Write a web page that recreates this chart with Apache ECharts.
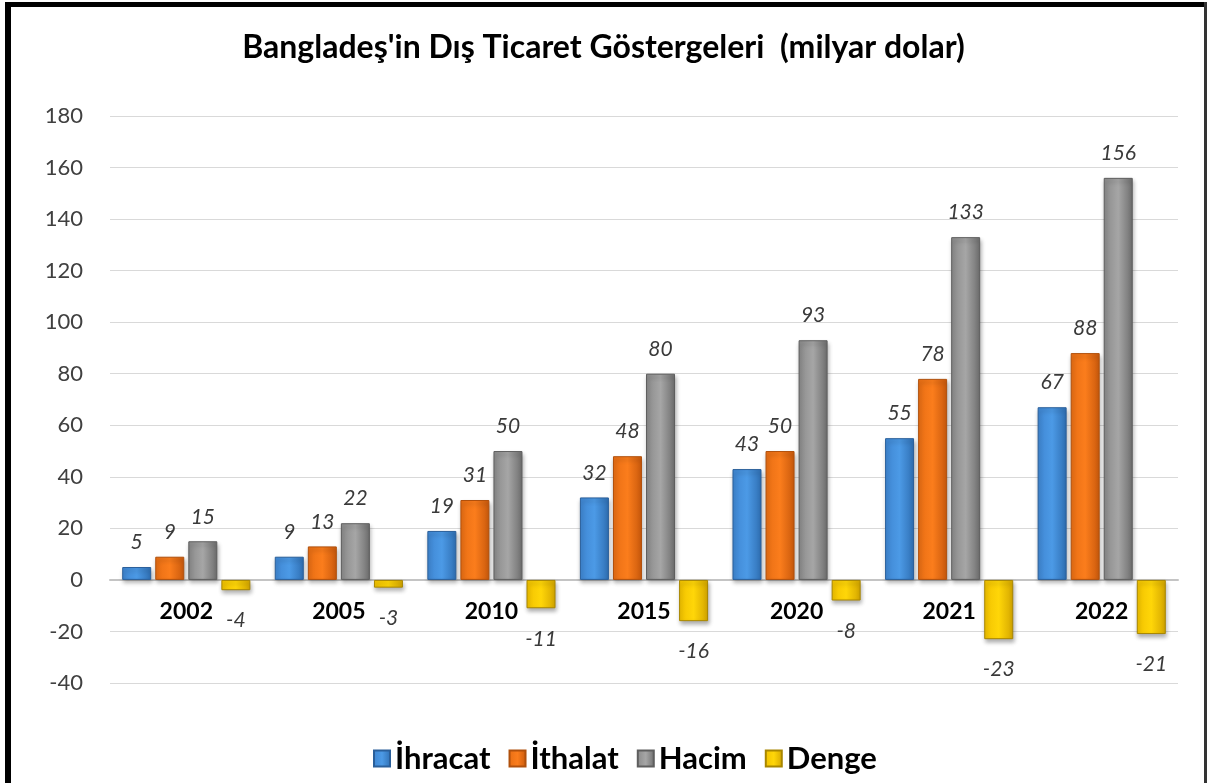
<!DOCTYPE html>
<html>
<head>
<meta charset="utf-8">
<script src="https://cdn.jsdelivr.net/npm/echarts@6/dist/echarts.min.js"></script>
<style>
html,body{margin:0;padding:0;background:#fff;}
#c{width:1207px;height:783px;}
</style>
</head>
<body>
<div id="c"></div>
<script>
const categories = ['2002','2005','2010','2015','2020','2021','2022'];
const ihracat = [5, 9, 19, 32, 43, 55, 67];
const ithalat = [9, 13, 31, 48, 50, 78, 88];
const hacim = [15, 22, 50, 80, 93, 133, 156];
const denge = [-4, -3, -11, -16, -8, -23, -21];
const seriesNames = ['İhracat', 'İthalat', 'Hacim', 'Denge'];
const yTicks = {min: -40, max: 180, interval: 20};

const FONT = 'Lato, "Open Sans", sans-serif';
const GRID = {left: 110, right: 29, top: 116, bottom: 100};
const gridH = 783 - GRID.top - GRID.bottom;
const zeroOffset = -gridH * (0 - yTicks.min) / (yTicks.max - yTicks.min);

function grad(l, c, r) {
  return new echarts.graphic.LinearGradient(0, 0, 1, 0, [
    {offset: 0, color: l},
    {offset: 0.5, color: c},
    {offset: 1, color: r}
  ]);
}
const fills = [
  grad('#3f86d2', '#4c9ae6', '#2f6fb3'),
  grad('#e86e14', '#fb7d1c', '#c9590c'),
  grad('#8a8a8a', '#a6a6a6', '#6e6e6e'),
  grad('#f2c200', '#ffd608', '#d4a600')
];
const borders = ['#2a5f9a', '#b0500c', '#5e5e5e', '#a88600'];

const labelBase = {
  show: true,
  fontFamily: FONT,
  fontStyle: 'italic',
  fontSize: 21,
  color: '#3a3a3a'
};

function mkSeries(name, data, idx) {
  return {
    name: name,
    type: 'bar',
    data: data.map(v => ({
      value: v,
      label: v < 0 ? {position: 'bottom', distance: 20} : {position: 'top', distance: 14}
    })),
    barGap: '14%',
    barCategoryGap: '16%',
    itemStyle: {
      color: fills[idx],
      borderColor: borders[idx],
      borderWidth: 1,
      shadowColor: 'rgba(0,0,0,0.3)',
      shadowBlur: 4,
      shadowOffsetX: 1,
      shadowOffsetY: 3
    },
    label: labelBase
  };
}

const chart = echarts.init(document.getElementById('c'), null, {renderer: 'canvas'});
chart.setOption({
  animation: false,
  backgroundColor: '#ffffff',
  title: {
    text: "Bangladeş'in Dış Ticaret Göstergeleri  (milyar dolar)",
    left: 'center',
    top: 27,
    textStyle: {fontFamily: FONT, fontWeight: 'bold', fontSize: 32, color: '#000'}
  },
  legend: {
    bottom: 4,
    left: 368,
    itemWidth: 16,
    itemHeight: 16,
    itemGap: 18,
    icon: 'rect',
    textStyle: {fontFamily: FONT, fontWeight: 'bold', fontSize: 31, color: '#000'},
    data: seriesNames
  },
  grid: Object.assign({containLabel: false}, GRID),
  xAxis: {
    type: 'category',
    data: categories,
    offset: zeroOffset,
    axisLine: {onZero: false, lineStyle: {color: '#c4c4c4', width: 2}},
    axisTick: {show: false},
    axisLabel: {fontFamily: FONT, fontWeight: 'bold', fontSize: 23, color: '#000', margin: 20},
    z: 1
  },
  yAxis: {
    type: 'value',
    min: yTicks.min, max: yTicks.max, interval: yTicks.interval,
    axisLine: {show: false},
    axisTick: {show: false},
    splitLine: {lineStyle: {color: '#d9d9d9', width: 1}},
    axisLabel: {fontFamily: FONT, fontSize: 22, color: '#404040', margin: 27}
  },
  graphic: [
    {type: 'rect', shape: {x: 5, y: 2, width: 1202, height: 5}, style: {fill: '#000'}, z: 100},
    {type: 'rect', shape: {x: 5, y: 2, width: 6, height: 781}, style: {fill: '#000'}, z: 100},
    {type: 'rect', shape: {x: 1204, y: 2, width: 3, height: 781}, style: {fill: '#333'}, z: 100}
  ],
  series: [
    mkSeries(seriesNames[0], ihracat, 0),
    mkSeries(seriesNames[1], ithalat, 1),
    mkSeries(seriesNames[2], hacim, 2),
    mkSeries(seriesNames[3], denge, 3)
  ]
});
</script>
</body>
</html>
